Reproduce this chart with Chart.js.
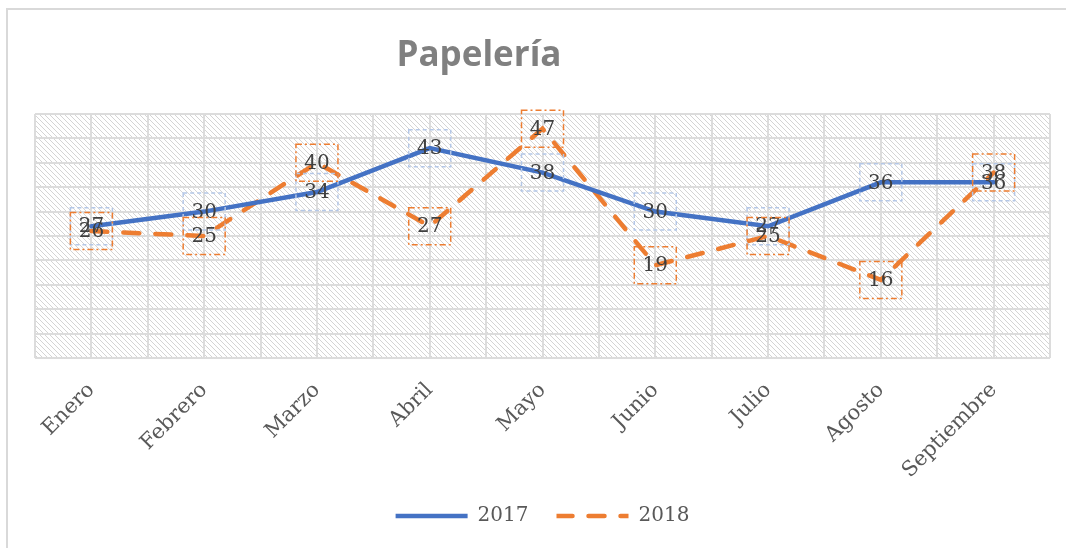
<!DOCTYPE html>
<html lang="es">
<head>
  <meta charset="UTF-8">
  <title>Papelería</title>
  <script src="https://cdn.jsdelivr.net/npm/chart.js"></script>
  <style>
    html, body {
      margin: 0;
      padding: 0;
      background-color: #fff;
    }
    .chart-box {
      position: relative;
      width: 1066px;
      height: 548px;
    }
  </style>
</head>
<body>
  <div class="chart-box">
    <canvas id="papeleria"></canvas>
  </div>

  <script>
    // Datos
    const titulo = 'Papelería';
    const meses = ['Enero', 'Febrero', 'Marzo', 'Abril', 'Mayo', 'Junio', 'Julio', 'Agosto', 'Septiembre'];
    const ventas2017 = [27, 30, 34, 43, 38, 30, 27, 36, 36];
    const ventas2018 = [26, 25, 40, 27, 47, 19, 25, 16, 38];
    const series = ['2017', '2018'];
    const ejeY = { min: 0, max: 50, paso: 5 };

    const AZUL = '#4472C4';
    const NARANJA = '#ED7D31';
    const GRIS_GRID = '#dcdcdc';
    const FUENTE_SERIF = '"DejaVu Serif", serif';

    // trama diagonal del fondo del area de trazado
    function crearTrama(ctx) {
      const t = document.createElement('canvas');
      t.width = 5;
      t.height = 5;
      const g = t.getContext('2d');
      g.strokeStyle = '#d4d4d4';
      g.lineWidth = 1;
      g.beginPath();
      g.moveTo(-1, -1); g.lineTo(6, 6);
      g.moveTo(-1, 4); g.lineTo(1, 6);
      g.moveTo(4, -1); g.lineTo(6, 1);
      g.stroke();
      return ctx.createPattern(t, 'repeat');
    }

    // marco, fondo rayado y titulo
    const fondo = {
      id: 'fondo',
      beforeDraw(chart) {
        const { ctx, chartArea: a } = chart;
        ctx.save();
        ctx.strokeStyle = '#d9d9d9';
        ctx.lineWidth = 2;
        ctx.strokeRect(7, 9, 1200, 1000);

        ctx.fillStyle = crearTrama(ctx);
        ctx.fillRect(a.left, a.top, a.right - a.left, a.bottom - a.top);

        ctx.fillStyle = '#808080';
        ctx.font = 'bold 35px "Open Sans", sans-serif';
        ctx.textAlign = 'center';
        ctx.textBaseline = 'alphabetic';
        ctx.fillText(titulo, 479, 66);
        ctx.restore();
      }
    };

    // etiquetas de datos con recuadro
    const etiquetas = {
      id: 'etiquetas',
      afterDatasetsDraw(chart) {
        const { ctx } = chart;
        const estilos = [
          { color: '#b4c7e7', dash: [4, 3] },
          { color: NARANJA, dash: [6, 3, 2, 3] }
        ];
        ctx.save();
        chart.data.datasets.forEach((ds, i) => {
          const meta = chart.getDatasetMeta(i);
          const st = estilos[i];
          meta.data.forEach((pt, j) => {
            ctx.setLineDash(st.dash);
            ctx.strokeStyle = st.color;
            ctx.lineWidth = 1.5;
            ctx.strokeRect(pt.x - 21, pt.y - 18.5, 42, 37);
            ctx.setLineDash([]);
            ctx.fillStyle = '#404040';
            ctx.font = '20px ' + FUENTE_SERIF;
            ctx.textAlign = 'center';
            ctx.textBaseline = 'middle';
            ctx.fillText(String(ds.data[j]), pt.x, pt.y + 1);
          });
        });
        ctx.restore();
      }
    };

    new Chart(document.getElementById('papeleria'), {
      type: 'line',
      data: {
        labels: meses,
        datasets: [
          {
            label: series[0],
            data: ventas2017,
            borderColor: AZUL,
            backgroundColor: AZUL,
            borderWidth: 4.5,
            borderCapStyle: 'round',
            pointRadius: 0,
            tension: 0
          },
          {
            label: series[1],
            data: ventas2018,
            borderColor: NARANJA,
            backgroundColor: NARANJA,
            borderWidth: 4.5,
            borderDash: [16, 16],
            borderCapStyle: 'round',
            pointRadius: 0,
            tension: 0
          }
        ]
      },
      options: {
        responsive: true,
        maintainAspectRatio: false,
        animation: false,
        layout: {
          padding: { left: 35, right: 16, top: 114, bottom: 12 }
        },
        plugins: {
          title: { display: false },
          tooltip: { enabled: false },
          legend: {
            position: 'bottom',
            labels: {
              boxWidth: 72,
              boxHeight: 0,
              padding: 28,
              color: '#595959',
              font: { family: FUENTE_SERIF, size: 20 }
            }
          }
        },
        scales: {
          x: {
            offset: true,
            grid: { display: false, drawTicks: false },
            border: { display: false },
            ticks: {
              autoSkip: false,
              minRotation: 45,
              maxRotation: 45,
              padding: 20,
              color: '#595959',
              font: { family: FUENTE_SERIF, size: 21 }
            },
            afterFit(scale) { scale.height = 120; }
          },
          xGrid: {
            type: 'linear',
            position: 'top',
            min: -0.5,
            max: meses.length - 0.5,
            grid: { color: GRIS_GRID, lineWidth: 2, drawTicks: false },
            border: { display: false },
            ticks: { display: false, stepSize: 0.5 }
          },
          y: {
            min: ejeY.min,
            max: ejeY.max,
            grid: { color: GRIS_GRID, lineWidth: 2, drawTicks: false },
            border: { display: false },
            ticks: { display: false, stepSize: ejeY.paso }
          }
        }
      },
      plugins: [fondo, etiquetas]
    });
  </script>
</body>
</html>
